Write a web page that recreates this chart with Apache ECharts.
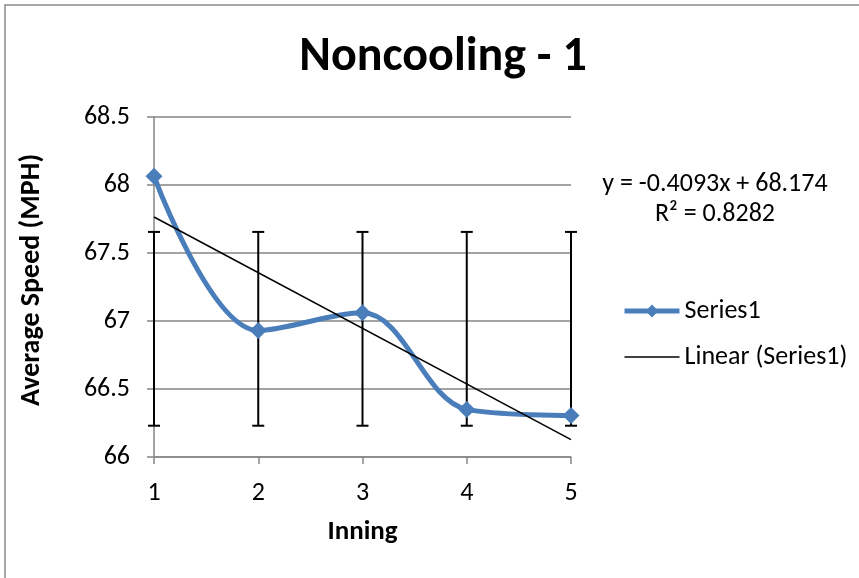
<!DOCTYPE html>
<html>
<head>
<meta charset="utf-8">
<script src="https://cdn.jsdelivr.net/npm/echarts@6/dist/echarts.min.js"></script>
<style>html,body{margin:0;padding:0;background:#fff}#c{width:859px;height:578px}</style>
</head>
<body>
<div id="c"></div>
<script>
// ---- data ----
const innings = [1, 2, 3, 4, 5];
const avgSpeed = [68.065, 66.93, 67.06, 66.35, 66.305];
const errLow = [66.23, 66.23, 66.23, 66.23, 66.23];
const errHigh = [67.655, 67.655, 67.655, 67.655, 67.655];
const trendSlope = -0.4093;
const trendIntercept = 68.174;
const trendR2 = 0.8282;
const yTicks = { min: 66, max: 68.5, interval: 0.5 };
const xTicks = { min: 1, max: 5, interval: 1 };

const FONT = "Carlito, 'Liberation Sans Narrow', 'Open Sans', sans-serif";

const seriesData = innings.map((x, i) => [x, avgSpeed[i]]);
const errData = innings.map((x, i) => [x, errLow[i], errHigh[i]]);
const xFirst = innings[0], xLast = innings[innings.length - 1];
const trendData = [[xFirst, trendSlope * xFirst + trendIntercept], [xLast, trendSlope * xLast + trendIntercept]];
const eqText = 'y = ' + trendSlope + 'x + ' + trendIntercept;

const chart = echarts.init(document.getElementById('c'), null, { renderer: 'canvas' });
chart.setOption({
  animation: false,
  backgroundColor: '#fff',
  title: {
    text: 'Noncooling - 1',
    left: 438, top: 29, textAlign: 'center',
    textStyle: { fontFamily: FONT, fontWeight: 'bold', fontSize: 48, color: '#000' }
  },
  grid: { left: 154, right: 288, top: 117, bottom: 121 },
  legend: {
    orient: 'vertical', left: 617, top: 293, itemGap: 20,
    itemWidth: 55, itemHeight: 16,
    data: [
      { name: 'Series1', lineStyle: { width: 5, color: '#4a7ebb' } },
      { name: 'Linear (Series1)', itemStyle: { opacity: 0 }, lineStyle: { width: 1.5, color: '#000' } }
    ],
    textStyle: { fontFamily: FONT, fontSize: 26, color: '#000', padding: [0, 0, 0, 0] }
  },
  graphic: [
    { type: 'rect', shape: { x: 5, y: 5, width: 1000, height: 800 }, style: { fill: 'none', stroke: '#8a8a8a', lineWidth: 1.5 }, silent: true },
    { type: 'text', style: { text: eqText, fontFamily: FONT, fontSize: 26, fill: '#000', align: 'center', verticalAlign: 'middle', x: 715, y: 184 } },
    { type: 'text', style: { text: 'R² = ' + trendR2.toFixed(4), fontFamily: FONT, fontSize: 26, fill: '#000', align: 'center', verticalAlign: 'middle', x: 715, y: 214 } }
  ],
  xAxis: {
    type: 'value', min: xTicks.min, max: xTicks.max, interval: xTicks.interval,
    name: 'Inning', nameLocation: 'middle', nameGap: 62,
    nameTextStyle: { fontFamily: FONT, fontWeight: 'bold', fontSize: 27, color: '#000' },
    axisLine: { show: true, lineStyle: { color: '#868686', width: 1.5 } },
    axisTick: { show: true, length: 7, lineStyle: { color: '#868686', width: 1.5 } },
    axisLabel: { fontFamily: FONT, fontSize: 26, color: '#000', margin: 23 },
    splitLine: { show: false }
  },
  yAxis: {
    type: 'value', min: yTicks.min, max: yTicks.max, interval: yTicks.interval,
    name: 'Average Speed (MPH)', nameLocation: 'middle', nameGap: 108, nameRotate: 90,
    nameTextStyle: { fontFamily: FONT, fontWeight: 'bold', fontSize: 28, color: '#000', padding: [0, 0, 0, 14] },
    axisLine: { show: true, lineStyle: { color: '#868686', width: 1.5 } },
    axisTick: { show: true, length: 7, lineStyle: { color: '#868686', width: 1.5 } },
    axisLabel: { fontFamily: FONT, fontSize: 26, color: '#000', margin: 24 },
    splitLine: { show: true, lineStyle: { color: '#868686', width: 1.5 } }
  },
  series: [
    {
      name: 'errorbars', type: 'custom', data: errData, z: 3,
      renderItem: function (params, api) {
        const x = api.value(0);
        const lo = api.coord([x, api.value(1)]);
        const hi = api.coord([x, api.value(2)]);
        const cap = 6;
        const st = { stroke: '#000', lineWidth: 2 };
        return {
          type: 'group',
          children: [
            { type: 'line', shape: { x1: lo[0], y1: lo[1], x2: hi[0], y2: hi[1] }, style: st },
            { type: 'line', shape: { x1: hi[0] - cap, y1: hi[1], x2: hi[0] + cap, y2: hi[1] }, style: st },
            { type: 'line', shape: { x1: lo[0] - cap, y1: lo[1], x2: lo[0] + cap, y2: lo[1] }, style: st }
          ]
        };
      }
    },
    {
      name: 'Series1', type: 'line', data: seriesData, smooth: 0.35, z: 4,
      symbol: 'diamond', symbolSize: 17,
      lineStyle: { color: '#4a7ebb', width: 5 },
      itemStyle: { color: '#4a7ebb' }
    },
    {
      name: 'Linear (Series1)', type: 'line', data: trendData, z: 5,
      symbol: 'none',
      lineStyle: { color: '#000', width: 1.5 },
      itemStyle: { color: '#000' }
    }
  ]
});
</script>
</body>
</html>
